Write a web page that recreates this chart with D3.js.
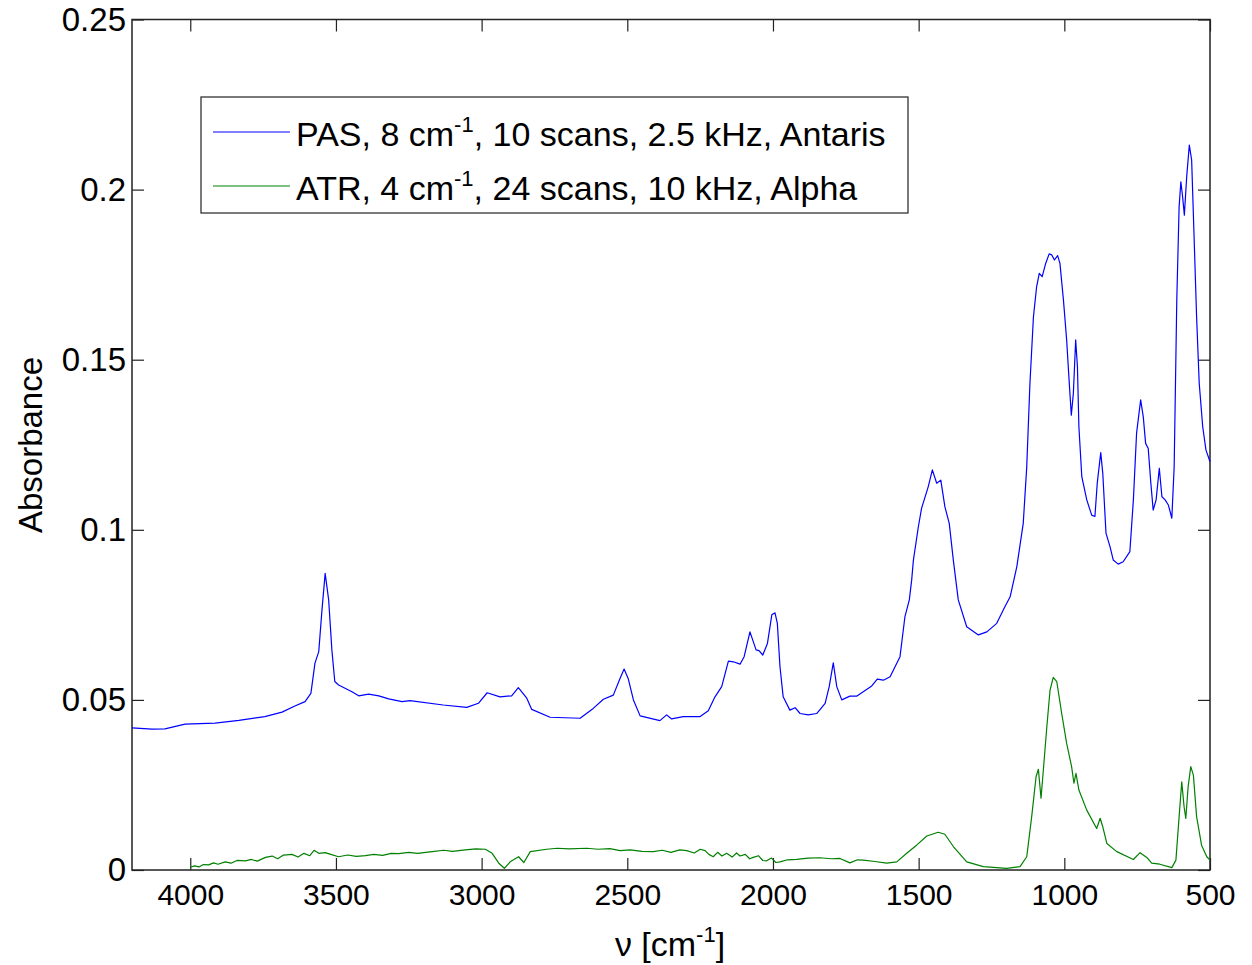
<!DOCTYPE html>
<html>
<head>
<meta charset="utf-8">
<script src="https://cdn.jsdelivr.net/npm/d3@7"></script>
<style>
  body { margin: 0; background: #fff; }
  text { font-family: "Liberation Sans", Arial, sans-serif; }
</style>
</head>
<body>
<div class="chart"></div>
<script>
const WIDTH = 1252
const HEIGHT = 965

// PAS spectrum (blue)
const pasWn = [4200,4131,4087,4018,3915,3833,3744,3685,3641,3606,3586,3572,3559,3548,3537,3525,3514,3504,3491,3445,3422,3388,3353,3319,3273,3246,3132,3051,3011,2981,2937,2897,2874,2845,2828,2765,2662,2617,2582,2548,2525,2511,2497,2479,2456,2388,2365,2348,2308,2250,2222,2199,2176,2153,2136,2113,2099,2079,2058,2048,2035,2019,2004,1993,1985,1976,1965,1942,1924,1907,1879,1850,1821,1807,1793,1781,1764,1736,1713,1661,1642,1621,1598,1564,1547,1532,1524,1518,1501,1490,1467,1453,1438,1424,1410,1395,1381,1364,1335,1295,1266,1232,1204,1186,1163,1141,1129,1118,1106,1095,1086,1076,1064,1052,1043,1034,1023,1015,1003,992,983,976,969,961,955,950,940,923,906,895,887,875,868,857,843,832,815,798,775,763,752,738,729,721,712,703,695,685,674,665,654,643,631,623,614,606,600,594,588,580,571,563,555,546,537,525,514,500]
const pasAbs = [.0418,.0414,.0415,.0429,.0432,.0440,.0451,.0464,.0482,.0495,.0519,.0608,.0642,.0764,.0872,.0794,.0647,.0554,.0544,.0524,.0512,.0517,.0512,.0503,.0495,.0498,.0485,.0478,.0490,.0521,.0509,.0512,.0536,.0505,.0472,.0449,.0446,.0475,.0502,.0514,.0563,.0591,.0563,.0500,.0453,.0439,.0456,.0444,.0451,.0451,.0468,.0509,.0539,.0614,.0612,.0605,.0627,.0700,.0647,.0645,.0632,.0666,.0750,.0756,.0725,.0598,.0509,.0470,.0477,.0460,.0456,.0460,.0490,.0539,.0609,.0539,.0500,.0511,.0511,.0541,.0561,.0558,.0568,.0627,.0745,.0794,.0852,.0911,.1009,.1063,.1127,.1176,.1137,.1146,.1068,.1019,.0911,.0794,.0715,.0691,.0700,.0725,.0774,.0803,.0892,.1019,.1185,.1431,.1626,.1715,.1754,.1744,.1783,.1811,.1808,.1793,.1806,.1783,.1675,.1558,.1431,.1337,.1401,.1558,.1479,.1303,.1156,.1088,.1043,.1039,.1137,.1227,.1166,.0990,.0950,.0911,.0899,.0906,.0936,.1088,.1284,.1382,.1332,.1254,.1239,.1137,.1058,.1088,.1181,.1097,.1088,.1073,.1034,.1185,.1675,.1950,.2023,.1979,.1925,.2038,.2131,.2087,.1871,.1626,.1431,.1303,.1235,.1200]

// ATR spectrum (green)
const atrWn = [4000,3985,3970,3955,3937,3920,3905,3880,3860,3840,3811,3790,3770,3742,3719,3700,3680,3651,3630,3610,3590,3575,3559,3537,3515,3491,3460,3430,3399,3370,3340,3310,3285,3250,3220,3170,3130,3100,3056,3020,2987,2964,2941,2922,2902,2873,2855,2833,2777,2740,2700,2639,2600,2560,2525,2490,2450,2411,2380,2350,2320,2296,2270,2250,2233,2220,2205,2190,2175,2159,2140,2125,2113,2095,2080,2068,2050,2035,2022,2005,1990,1976,1950,1919,1880,1839,1800,1770,1736,1710,1690,1650,1610,1575,1541,1507,1472,1433,1410,1381,1335,1278,1198,1152,1129,1112,1097,1089,1080,1072,1060,1049,1038,1026,1009,992,975,967,960,950,923,889,877,868,854,820,763,740,717,700,672,631,617,606,597,589,583,575,566,557,546,529,511,500]
const atrAbs = [.0008,.0012,.0009,.0016,.0015,.0021,.0017,.0024,.0020,.0028,.0027,.0031,.0026,.0037,.0041,.0033,.0044,.0046,.0038,.0049,.0042,.0058,.0049,.0051,.0045,.0039,.0044,.0040,.0042,.0046,.0043,.0049,.0048,.0052,.0049,.0054,.0058,.0055,.0059,.0062,.0061,.0049,.0020,.0005,.0024,.0039,.0022,.0054,.0061,.0064,.0062,.0064,.0061,.0063,.0057,.0059,.0055,.0054,.0058,.0052,.0059,.0057,.0050,.0061,.0057,.0046,.0039,.0052,.0041,.0049,.0038,.0050,.0041,.0046,.0033,.0037,.0042,.0028,.0027,.0035,.0022,.0024,.0030,.0031,.0035,.0036,.0033,.0034,.0021,.0030,.0029,.0025,.0020,.0024,.0049,.0073,.0100,.0111,.0105,.0069,.0024,.0010,.0005,.0010,.0039,.0157,.0274,.0296,.0211,.0294,.0421,.0529,.0566,.0554,.0460,.0372,.0304,.0255,.0284,.0235,.0176,.0122,.0152,.0127,.0078,.0054,.0031,.0051,.0037,.0020,.0017,.0007,.0029,.0157,.0259,.0186,.0152,.0245,.0304,.0279,.0157,.0073,.0039,.0029]

const xTicks = [4000, 3500, 3000, 2500, 2000, 1500, 1000, 500]
const yTicks = [0, 0.05, 0.1, 0.15, 0.2, 0.25]
const yTickLabels = ["0", "0.05", "0.1", "0.15", "0.2", "0.25"]

const legendNames = [["PAS, 8 cm", "-1", ", 10 scans, 2.5 kHz, Antaris"],
                     ["ATR, 4 cm", "-1", ", 24 scans, 10 kHz, Alpha"]]
const colors = ["#0000ff", "#008000"]

const mLeft = 132, mRight = 1210, mTop = 19.5, mBottom = 870

const svg = d3.select("div.chart")
            .append("svg")
            .attr("width", WIDTH)
            .attr("height", HEIGHT);

const x = d3.scaleLinear().domain([4200, 500]).range([mLeft, mRight])
const y = d3.scaleLinear().domain([0, 0.25]).range([mBottom, mTop])

// axes, ticks pointing inward
let xAxis = svg.append("g")
            .attr("transform", `translate(0,${mBottom})`)
            .call(d3.axisBottom(x).tickValues(xTicks).tickSize(-12).tickPadding(14).tickFormat(d3.format("d")))
svg.append("g")
            .attr("transform", `translate(0,${mTop})`)
            .call(d3.axisTop(x).tickValues(xTicks).tickSize(-12).tickFormat(""))
let yAxis = svg.append("g")
            .attr("transform", `translate(${mLeft},0)`)
            .call(d3.axisLeft(y).tickValues(yTicks).tickSize(-12).tickPadding(6).tickFormat((d, i) => yTickLabels[i]))
svg.append("g")
            .attr("transform", `translate(${mRight},0)`)
            .call(d3.axisRight(y).tickValues(yTicks).tickSize(-12).tickFormat(""))

svg.selectAll(".domain").remove()
svg.selectAll(".tick line").attr("stroke", "#222").attr("stroke-width", 1.2)
svg.selectAll(".tick text")
            .style("font-family", "Liberation Sans, Arial, sans-serif")
            .attr("fill", "#000")
xAxis.selectAll(".tick text").style("font-size", "30px")
yAxis.selectAll(".tick text").style("font-size", "33px")

svg.append("rect")
            .attr("x", mLeft).attr("y", mTop)
            .attr("width", mRight - mLeft).attr("height", mBottom - mTop)
            .attr("fill", "none").attr("stroke", "#222").attr("stroke-width", 1.5)

// spectra
const line = d3.line().x(d => x(d[0])).y(d => y(d[1]))
const series = [d3.zip(pasWn, pasAbs), d3.zip(atrWn, atrAbs)]
series.forEach((s, i) => {
    svg.append("path")
            .datum(s)
            .attr("d", line)
            .attr("fill", "none")
            .attr("stroke", colors[i])
            .attr("stroke-width", 1.2)
            .attr("stroke-linejoin", "round")
})

// axis labels
let xl = svg.append("text")
            .attr("x", 670).attr("y", 956)
            .attr("text-anchor", "middle")
            .style("font-size", "34px")
xl.append("tspan").text("ν [cm")
xl.append("tspan").attr("dy", -14).style("font-size", "22px").text("-1")
xl.append("tspan").attr("dy", 14).text("]")

svg.append("text")
            .attr("transform", "translate(42,445) rotate(-90)")
            .attr("text-anchor", "middle")
            .style("font-size", "33px")
            .text("Absorbance")

// legend
const lg = svg.append("g")
lg.append("rect")
            .attr("x", 201).attr("y", 97).attr("width", 707).attr("height", 116)
            .attr("fill", "#fff").attr("stroke", "#222").attr("stroke-width", 1.2)
legendNames.forEach((n, i) => {
    let ly = 132 + i * 54
    lg.append("line")
            .attr("x1", 213).attr("x2", 290).attr("y1", ly).attr("y2", ly)
            .attr("stroke", colors[i]).attr("stroke-width", 1.2)
    let t = lg.append("text")
            .attr("x", 296).attr("y", ly + 14)
            .style("font-size", "34px")
    t.append("tspan").text(n[0])
    t.append("tspan").attr("dy", -14).style("font-size", "22px").text(n[1])
    t.append("tspan").attr("dy", 14).text(n[2])
})
</script>
</body>
</html>
